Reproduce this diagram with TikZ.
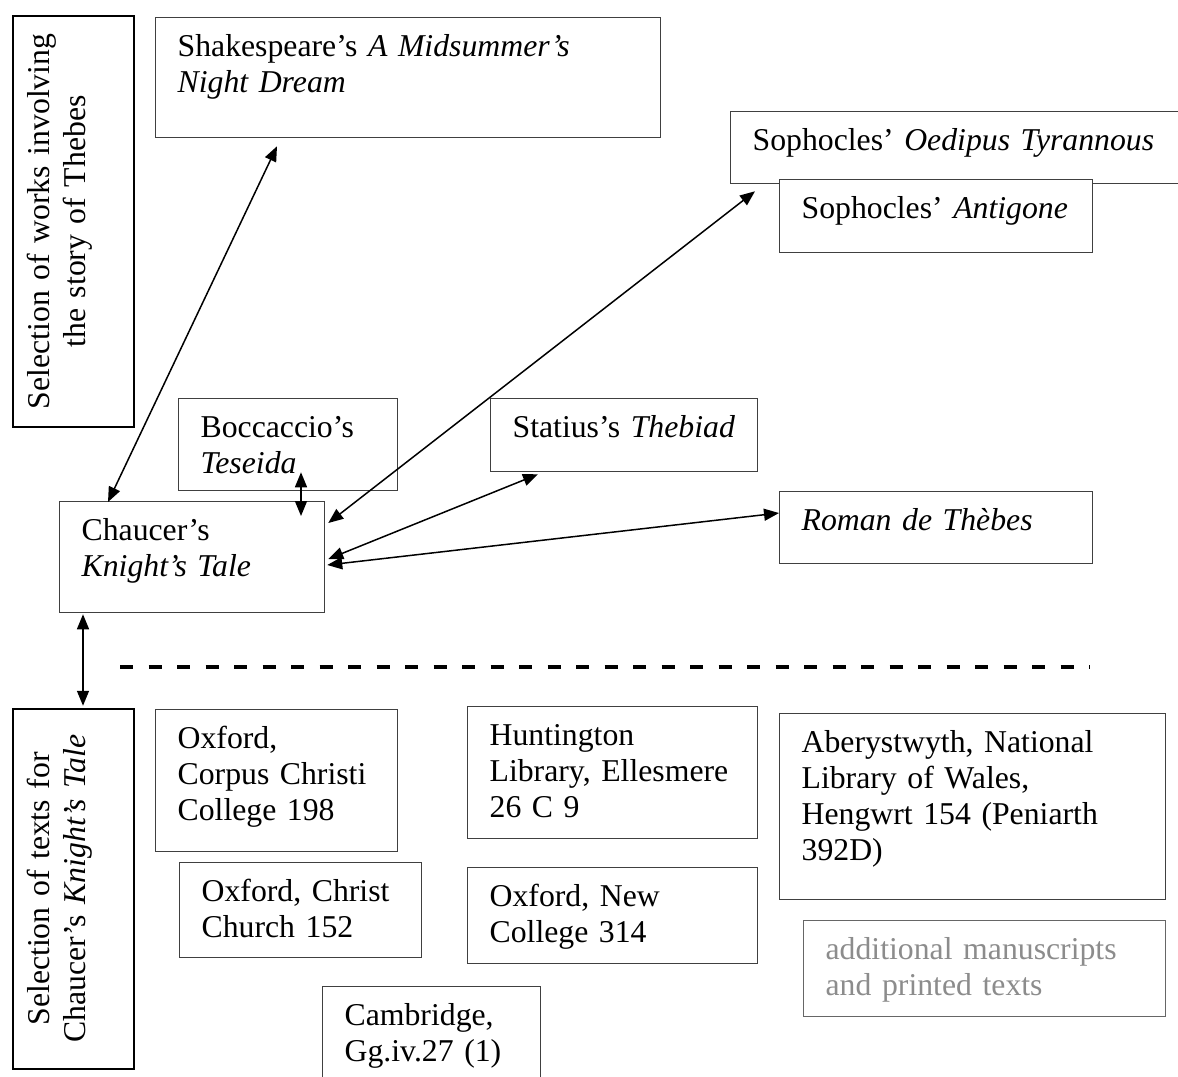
\documentclass[tikz,border=0pt]{standalone}
\usepackage{fontspec}
\setmainfont{Liberation Serif}
\usetikzlibrary{arrows.meta}

\begin{document}
\begin{tikzpicture}[
    x = 0.4pt,
    y = -0.4pt,
    font = \fontsize{12.7}{14.4}\selectfont,
    >={Triangle[length=6pt, width=4.8pt]},
    work/.style = {draw=black!75, line width=0.5pt, anchor=north west,
      align=left, inner xsep=8.8pt, inner ysep=0pt, text height=15.6pt},
    group/.style = {draw=black, line width=0.9pt, rotate=90,
      anchor=north west, align=center, inner xsep=4pt, inner ysep=0pt,
      text height=14.4pt, text depth=34pt},
    link/.style = {<->, line width=0.6pt},
    ]
    \useasboundingbox (0,0) rectangle (1178,1076);
    \clip (0,0) rectangle (1178,1076);
    % group labels
    \node[group, text width=156.4pt] (thebes) at (12,428)
      {Selection of works involving\\the story of Thebes};
    \node[group, text width=136pt] (texts) at (12,1070)
      {Selection of texts for\\Chaucer’s \textit{Knight’s Tale}};
    % works on Thebes
    \node[work, text width=184.4pt, text depth=32.4pt] (shak) at (155,17)
      {Shakespeare’s \textit{A Midsummer’s}\\\textit{Night Dream}};
    \node[work, text width=182.4pt, text depth=13.2pt] (oed) at (730,111)
      {Sophocles’ \textit{Oedipus Tyrannous}};
    \node[work, fill=white, text width=107.6pt, text depth=13.6pt] (anti) at (779,179)
      {Sophocles’~\textit{Antigone}};
    \node[work, text width=70pt, text depth=21.2pt] (bocc) at (178,398)
      {Boccaccio’s\\\textit{Teseida}};
    \node[work, text width=89.2pt, text depth=13.6pt] (stat) at (490,398)
      {Statius’s~\textit{Thebiad}};
    \node[work, text width=88.4pt, text depth=28.8pt] (chau) at (59,501)
      {Chaucer’s\\\textit{Knight’s Tale}};
    \node[work, text width=107.6pt, text depth=13.2pt] (roman) at (779,491)
      {\textit{Roman de Thèbes}};
    % divider
    \draw[line width=1.4pt, dash pattern=on 5.2pt off 6.2pt] (120,667) -- (1090,667);
    % texts of the tale
    \node[work, text width=79.2pt, text depth=41.2pt] (occ) at (155,709)
      {Oxford,\\Corpus Christi\\College 198};
    \node[work, text width=79.2pt, text depth=22.4pt] (cc) at (179,862)
      {Oxford,~Christ\\Church 152};
    \node[work, text width=98.4pt, text depth=37.2pt] (hunt) at (467,706)
      {Huntington\\Library, Ellesmere\\26 C 9};
    \node[work, text width=98.4pt, text depth=22.8pt] (newc) at (467,867)
      {Oxford, New\\College 314};
    \node[work, text width=136.8pt, text depth=58.8pt] (aber) at (779,713)
      {Aberystwyth, National\\Library of Wales,\\Hengwrt 154 (Peniarth\\392D)};
    \node[work, draw=black!60, text=black!45, text width=127.2pt, text depth=22.8pt]
      (addl) at (803,920) {additional manuscripts\\and printed texts};
    \node[work, text width=69.6pt, text depth=28.4pt] (camb) at (322,986)
      {Cambridge,\\Gg.iv.27 (1)};
    % links to the tale
    \draw[link] ([shift={(122,8)}]shak.south west) -- ([shift={(49,1)}]chau.north west);
    \draw[link] ([shift={(25,7)}]oed.south west) -- ([shift={(3,22)}]chau.north east);
    \draw[link] ([shift={(123,-19)}]bocc.south west) -- ([shift={(242,15)}]chau.north west);
    \draw[link] ([shift={(48,2)}]stat.south west) -- ([shift={(3,58)}]chau.north east);
    \draw[link] ([shift={(0,22)}]roman.north west) -- ([shift={(2,64)}]chau.north east);
    \draw[link] ([shift={(24,1)}]chau.south west) -- ([shift={(71,-2)}]texts.north east);
  \end{tikzpicture}
\end{document}
